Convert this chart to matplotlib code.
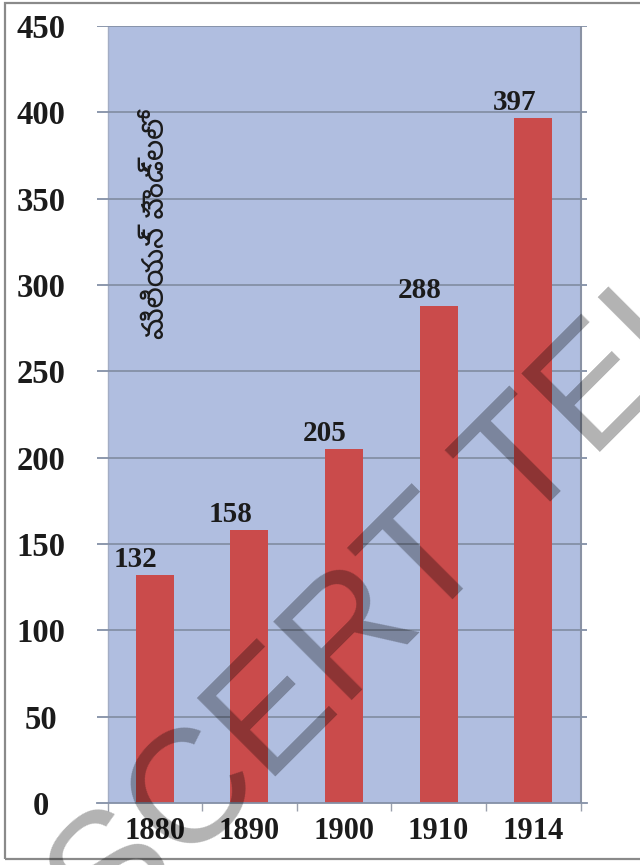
import matplotlib
matplotlib.use("Agg")
import os
import matplotlib.pyplot as plt
from matplotlib import font_manager
from matplotlib.font_manager import FontProperties
from matplotlib.patches import Rectangle

# ---------------- data ----------------
years = ['1880', '1890', '1900', '1910', '1914']
values = [132, 158, 205, 288, 397]
y_ticks = [0, 50, 100, 150, 200, 250, 300, 350, 400, 450]
y_title = 'మిలియన్ పౌండ్లలో'
watermark = 'SCERT TELANGANA'

# ---------------- fonts ----------------
def find_telugu_font():
    files = font_manager.findSystemFonts()
    prefs = ['NotoSansTelugu-Regular', 'NotoSansTelugu[', 'NotoSansTelugu',
             'Mandali-Regular', 'HindGuntur-Regular', 'NTR-Regular']
    for p in prefs:
        for f in files:
            if os.path.basename(f).startswith(p):
                return f
    return None

tel_path = find_telugu_font()

W, H = 640, 865
fig = plt.figure(figsize=(W / 100, H / 100), dpi=100)
fig.patch.set_facecolor('white')

ax_left, ax_right = 97, 587
ax_bottom, ax_top = 803, 26
ax = fig.add_axes([ax_left / W, 1 - ax_bottom / H,
                   (ax_right - ax_left) / W, (ax_bottom - ax_top) / H])

blue_l, blue_r = 107.5, 580.5
pitch = (blue_r - blue_l) / len(years)
ax.set_xlim(-0.5 - (blue_l - ax_left) / pitch, len(years) - 0.5 + (ax_right - blue_r) / pitch)
ax.set_ylim(y_ticks[0], y_ticks[-1])

ax.axvspan(-0.5, len(years) - 0.5, color='#b0bee0', zorder=0, lw=0)
ax.axvline(-0.5, color='#a3adc4', lw=1.0, zorder=0.5)
ax.axvline(len(years) - 0.5, color='#8a92a4', lw=1.5, zorder=0.5)
for t in y_ticks[1:]:
    ax.axhline(t, color='#8490a6', lw=1.3, zorder=1)

xpos = list(range(len(years)))
ax.bar(xpos, values, width=0.40, color='#ca4b4b', zorder=2)

for s in ['top', 'right', 'left']:
    ax.spines[s].set_visible(False)
ax.spines['bottom'].set_color('#8490a6')
ax.spines['bottom'].set_linewidth(1.3)

serif = dict(family='Liberation Serif', weight='bold', color='#1b1b1b')

ax.set_xticks(xpos)
ax.set_xticklabels(years, fontsize=22, **serif)
ax.set_xticks([i - 0.5 for i in range(len(years) + 1)], minor=True)
ax.tick_params(axis='x', which='major', length=0, pad=10)
ax.tick_params(axis='x', which='minor', length=6, width=1.0, color='#9aa0ad', direction='out')

ax.set_yticks(y_ticks)
ax.set_yticklabels([str(v) for v in y_ticks], fontsize=23.5, **serif)
ax.tick_params(axis='y', length=0, pad=40.3)
for lbl in ax.get_yticklabels():
    lbl.set_horizontalalignment('center')

px = 72 / 100.0
for i, v in enumerate(values):
    ax.annotate(str(v), (xpos[i], v), xytext=(-19 * px, 8 * px), textcoords='offset points',
                ha='center', va='baseline', fontsize=21, zorder=5, **serif)

if tel_path:
    tp = FontProperties(fname=tel_path, size=21.5)
    ax.text(0.02, 333, y_title, rotation=90, ha='center', va='center',
            fontproperties=tp, color='#1b1b1b', zorder=5)
else:
    ax.text(0.02, 333, y_title, rotation=90, ha='center', va='center', fontsize=21.5, zorder=5)

# outer frame
fig.add_artist(Rectangle((5 / W, 1 - 859 / H), 1.2, (859 - 3) / H, transform=fig.transFigure,
                         fill=False, ec='#8a8a8a', lw=1.6, zorder=1))

# diagonal watermark
fig.text(108 / W, 1 - 945 / H, watermark, rotation=45, rotation_mode='anchor',
         ha='left', va='baseline', fontsize=116.6, family='Liberation Sans',
         color='black', alpha=0.30, zorder=10)

fig.savefig('out.png', dpi=100)
